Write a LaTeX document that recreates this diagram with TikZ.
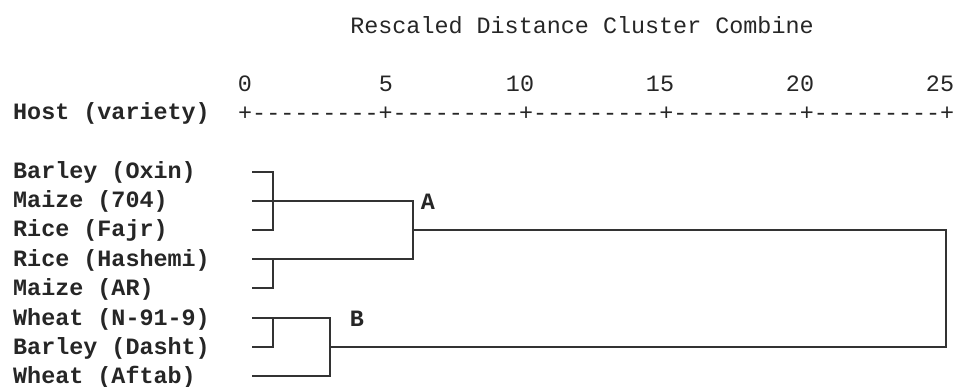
\documentclass[tikz,border=0pt]{standalone}
\usepackage{fontspec}
\setmonofont{Liberation Mono}
\begin{document}
\begin{tikzpicture}[x=1pt,y=-1pt,
  txt/.style={inner sep=0pt,font=\ttfamily\fontsize{23.4}{27}\selectfont,text=black!85},
  lbl/.style={txt,font=\ttfamily\bfseries\fontsize{23.4}{27}\selectfont,anchor=base west},
  num/.style={txt,anchor=center},
  link/.style={draw=black!80,line width=1.4pt,line cap=rect}]
\useasboundingbox (0,0) rectangle (955,387);
\node[txt] (title) at (582,25) {Rescaled Distance Cluster Combine};
\node[num] (n0) at (245,84) {0};
\node[num] (n5) at (386,84) {5};
\node[num] (n10) at (520,84) {10};
\node[num] (n15) at (660,84) {15};
\node[num] (n20) at (800,84) {20};
\node[num] (n25) at (940,84) {25};
\node[lbl] (host) at (13,120) {Host (variety)};
\node[txt,anchor=base west] (axis) at (238,121) {+---------+---------+---------+---------+---------+};
\node[lbl] (t1) at (13,179) {Barley (Oxin)};
\node[lbl] (t2) at (13,208) {Maize (704)};
\node[lbl] (t3) at (13,237) {Rice (Fajr)};
\node[lbl] (t4) at (13,266) {Rice (Hashemi)};
\node[lbl] (t5) at (13,295) {Maize (AR)};
\node[lbl] (t6) at (13,325) {Wheat (N-91-9)};
\node[lbl] (t7) at (13,354) {Barley (Dasht)};
\node[lbl] (t8) at (13,383) {Wheat (Aftab)};
\node[lbl,anchor=base] (A) at (428,210) {A};
\node[lbl,anchor=base] (B) at (357,326) {B};
% leaf ends
\coordinate (l1) at (253,172);
\coordinate (l2) at (253,201);
\coordinate (l3) at (253,230);
\coordinate (l4) at (253,259);
\coordinate (l5) at (253,288);
\coordinate (l6) at (253,318);
\coordinate (l7) at (253,347);
\coordinate (l8) at (253,376);
% joins
\coordinate (c1b) at (273,230);
\coordinate (c2b) at (273,288);
\coordinate (c3b) at (273,347);
\coordinate (a1) at (413,201);
\coordinate (a2) at (413,259);
\coordinate (aj) at (413,230);
\coordinate (b1) at (330,318);
\coordinate (b2) at (330,376);
\coordinate (bj) at (330,347);
\coordinate (r1) at (946,230);
\coordinate (r2) at (946,347);
\draw[link] (l1) -| (c1b) -- (l3);
\draw[link] (l2) -- (a1) -- (a2) -- (l4);
\draw[link] (l4) -| (c2b) -- (l5);
\draw[link] (aj) -- (r1) -- (r2) -- (bj);
\draw[link] (l6) -| (c3b) -- (l7);
\draw[link] (l6) -- (b1) -- (b2) -- (l8);
\end{tikzpicture}
\end{document}
